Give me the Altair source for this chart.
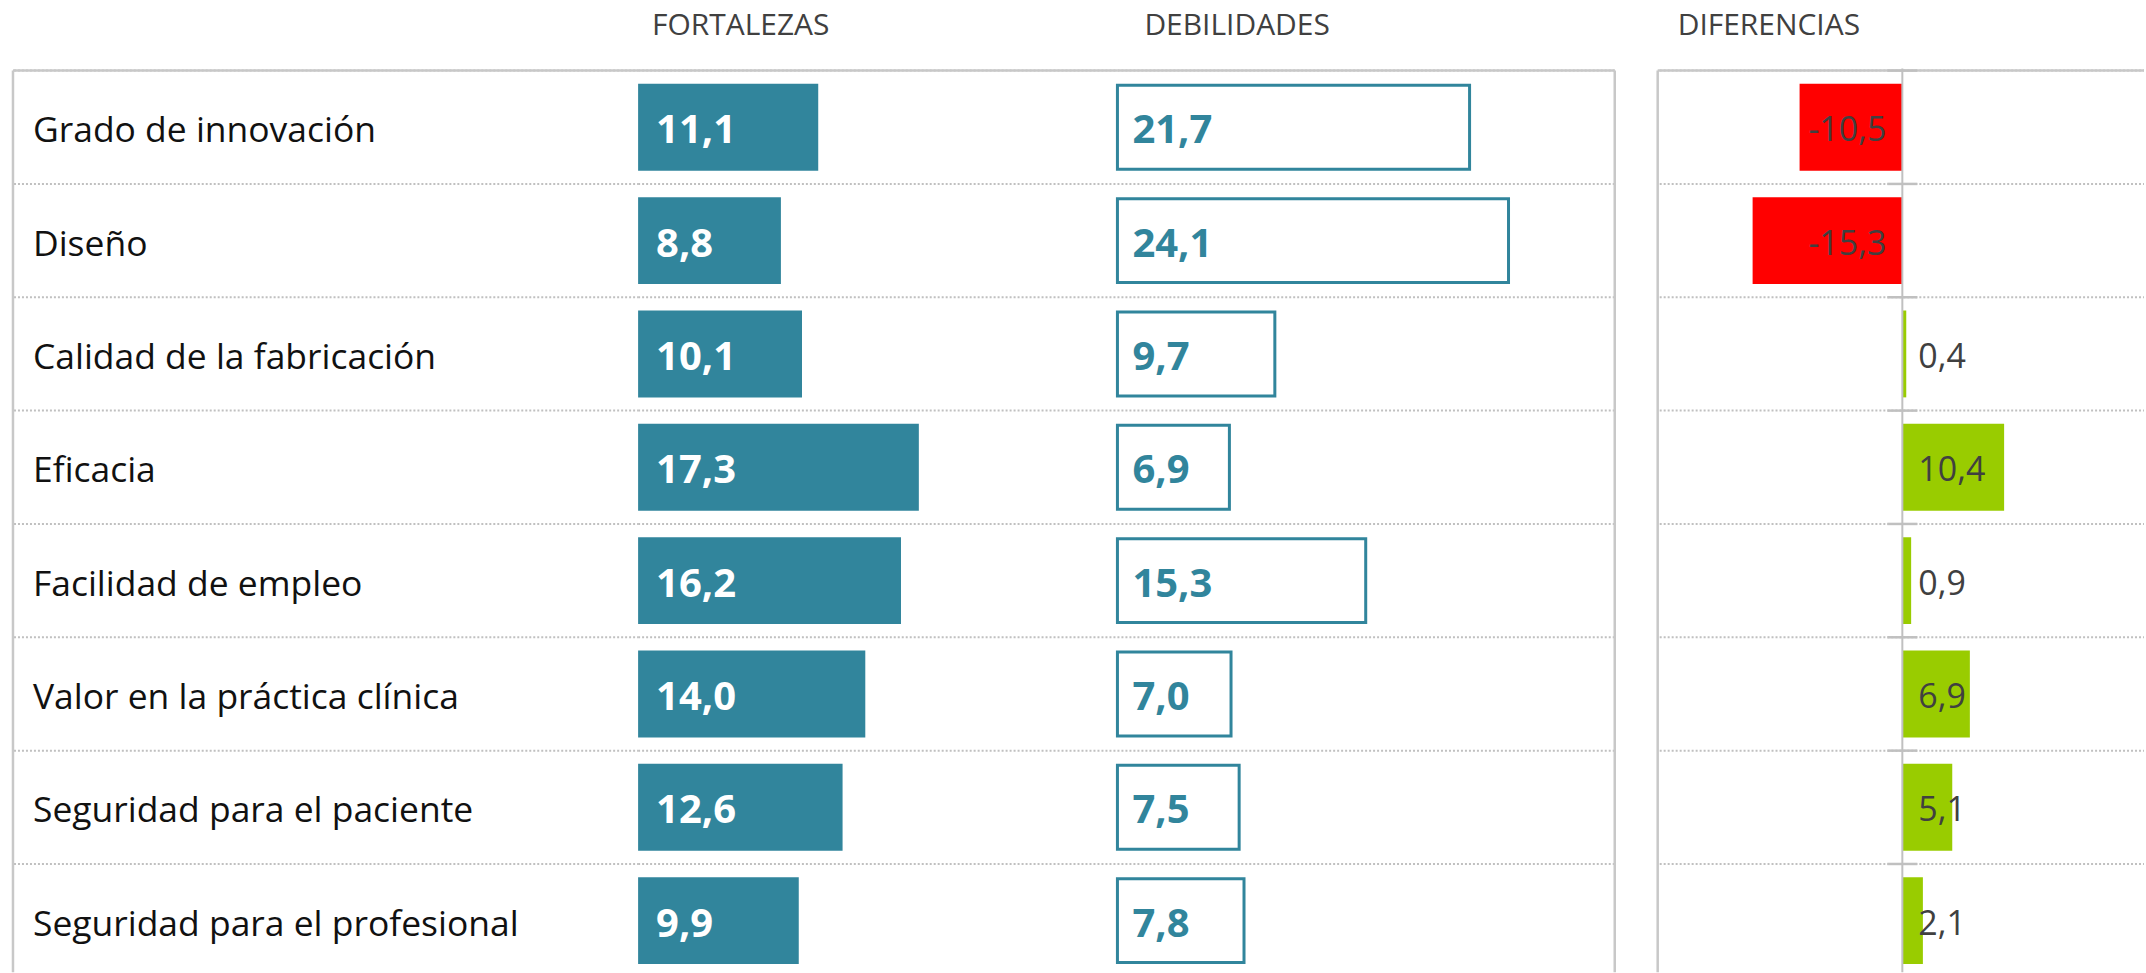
import altair as alt
import pandas as pd

categories = [
    "Grado de innovación",
    "Diseño",
    "Calidad de la fabricación",
    "Eficacia",
    "Facilidad de empleo",
    "Valor en la práctica clínica",
    "Seguridad para el paciente",
    "Seguridad para el profesional",
]
fortalezas = [11.1, 8.8, 10.1, 17.3, 16.2, 14.0, 12.6, 9.9]
debilidades = [21.7, 24.1, 9.7, 6.9, 15.3, 7.0, 7.5, 7.8]
diferencias = [-10.5, -15.3, 0.4, 10.4, 0.9, 6.9, 5.1, 2.1]
headers = ["FORTALEZAS", "DEBILIDADES", "DIFERENCIAS"]


def fmt(v):
    return f"{v:.1f}".replace(".", ",")


df = pd.DataFrame({"cat": categories, "fort": fortalezas, "deb": debilidades, "dif": diferencias})
df["fort_t"] = [fmt(v) for v in fortalezas]
df["deb_t"] = [fmt(v) for v in debilidades]
df["dif_t"] = [fmt(v) for v in diferencias]

FONT = "Open Sans"
TEAL = "#31859c"
BORDER = "#c8c8c8"
GRID = "#c0c0c0"
H = 973
TOP = 70
ROW_END = 978
PX = 16.25       # pixels per unit in the left panel
PXD = 9.8        # pixels per unit in the difference panel
DY = 4

W1, W2, W3 = 627, 480, 498
GAP = 43
W4 = GAP + 487
ZERO4 = GAP + 245

yscale = alt.Scale(domain=categories, range=[TOP, ROW_END], paddingInner=0, paddingOuter=0)
yaxis = alt.Axis(grid=False, labels=False, ticks=False, domain=False, title=None)
Y = alt.Y("cat:N", scale=yscale, axis=yaxis, sort=categories)
Yb = alt.Y("cat:N", scale=yscale, axis=yaxis, sort=categories, bandPosition=0)

base = alt.Chart(df)


def one(text=""):
    return alt.Chart(pd.DataFrame({"t": [text]}))


def separators(x0, x1):
    return base.mark_rule(color=GRID, strokeWidth=2, strokeDash=[2, 2]).encode(
        y=Yb, x=alt.value(x0), x2=alt.value(x1))


def rule_h(x0, x1):
    return one().mark_rule(color=BORDER, strokeWidth=2.5).encode(
        x=alt.value(x0), x2=alt.value(x1), y=alt.value(TOP))


def rule_v(x):
    return one().mark_rule(color=BORDER, strokeWidth=2.5).encode(
        x=alt.value(x), y=alt.value(TOP), y2=alt.value(H))


def header(text, x):
    return one(text).mark_text(align="left", baseline="middle", font=FONT, fontSize=30,
                               color="#404040").encode(x=alt.value(x), y=alt.value(25), text="t:N")


# Panel 1: category labels
labels = base.mark_text(align="left", baseline="middle", dy=DY, font=FONT, fontSize=35.5,
                        color="#111111").encode(y=Y, x=alt.value(21), text="cat:N")
p1 = alt.layer(separators(2, W1), labels, rule_h(1, W1), rule_v(1)).properties(width=W1, height=H)

# Panel 2: fortalezas
X2 = alt.X("fort:Q", scale=alt.Scale(domain=[0, W2 / PX], nice=False), axis=None)
fbars = base.mark_bar(color=TEAL, size=87).encode(x=X2, y=Y)
ftext = base.mark_text(align="left", baseline="middle", dy=DY, font=FONT, fontSize=40,
                       fontWeight="bold", color="white").encode(x=alt.value(18), y=Y, text="fort_t:N")
p2 = alt.layer(separators(0, W2), fbars, ftext, rule_h(0, W2),
               header(headers[0], 14)).properties(width=W2, height=H)

# Panel 3: debilidades
X3 = alt.X("deb:Q", scale=alt.Scale(domain=[0, W3 / PX], nice=False), axis=None)
dbars = base.mark_bar(fill="white", stroke=TEAL, strokeWidth=3, size=84).encode(x=X3, y=Y)
dtext = base.mark_text(align="left", baseline="middle", dy=DY, font=FONT, fontSize=40,
                       fontWeight="bold", color=TEAL).encode(x=alt.value(15), y=Y, text="deb_t:N")
p3 = alt.layer(separators(0, W3), dbars, dtext, rule_h(0, W3), rule_v(W3),
               header(headers[1], 27)).properties(width=W3, height=H)

# Panel 4: diferencias (includes the white gap on its left)
X4 = alt.X("dif:Q", scale=alt.Scale(domain=[-245 / PXD, 242 / PXD], range=[GAP, W4],
                                    nice=False, zero=False), axis=None)
difbars = base.mark_bar(size=87).encode(
    x=X4, y=Y,
    color=alt.condition("datum.dif < 0", alt.value("#ff0000"), alt.value("#99cc00")))
zero_line = one().mark_rule(color=GRID, strokeWidth=2).encode(
    x=alt.datum(0), y=alt.value(TOP - 2), y2=alt.value(H))
ticks = base.mark_rule(color=GRID, strokeWidth=2.5).encode(
    y=Yb, x=alt.value(ZERO4 - 15), x2=alt.value(ZERO4 + 15))
neg_text = base.transform_filter("datum.dif < 0").mark_text(
    align="right", baseline="middle", dx=-16, dy=DY, font=FONT, fontSize=34, color="#404040").encode(
    x=alt.datum(0), y=Y, text="dif_t:N")
pos_text = base.transform_filter("datum.dif >= 0").mark_text(
    align="left", baseline="middle", dx=16, dy=DY, font=FONT, fontSize=34, color="#404040").encode(
    x=alt.datum(0), y=Y, text="dif_t:N")
p4 = alt.layer(separators(GAP + 2, W4), difbars, rule_h(GAP, W4), rule_v(GAP), zero_line, ticks,
               neg_text, pos_text, header(headers[2], GAP + 20)).properties(width=W4, height=H)

chart = alt.hconcat(p1, p2, p3, p4, spacing=0, bounds="flush").resolve_scale(
    x="independent", y="independent").properties(
    padding={"left": 11, "top": 0, "right": 0, "bottom": 0},
    background="white",
).configure_view(stroke=None)

chart.save("out.html", embed_options={"renderer": "svg", "actions": False})
